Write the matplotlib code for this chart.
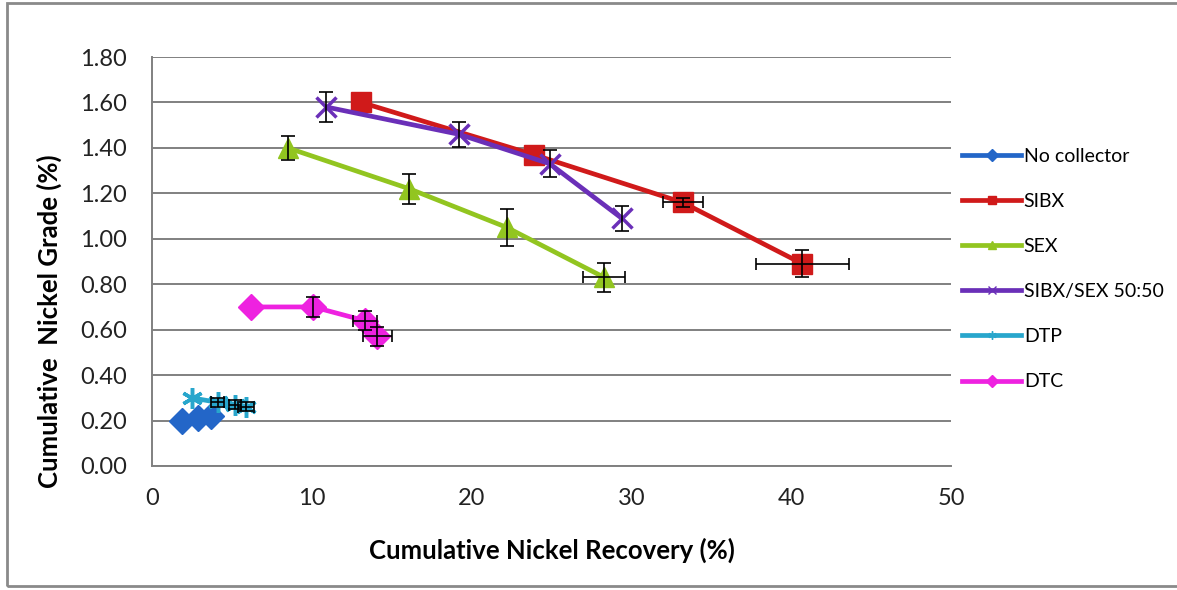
import matplotlib
matplotlib.use("Agg")
import matplotlib.pyplot as plt
from matplotlib.lines import Line2D
from matplotlib.patches import Rectangle

plt.rcParams['font.family'] = ['Lato', 'DejaVu Sans']

# ------------------------------------------------------------------ data
series_names = ['No collector', 'SIBX', 'SEX', 'SIBX/SEX 50:50', 'DTP', 'DTC']

# 0 = no visible error bar
nocol_rec = [1.9, 2.9, 3.7]
nocol_grade = [0.20, 0.21, 0.22]
nocol_xerr = [0, 0, 0]
nocol_yerr = [0, 0, 0]

sibx_rec = [13.1, 23.9, 33.2, 40.7]
sibx_grade = [1.60, 1.37, 1.16, 0.89]
sibx_xerr = [0, 0, 1.25, 2.9]
sibx_yerr = [0, 0, 0.02, 0.06]

sex_rec = [8.5, 16.1, 22.2, 28.3]
sex_grade = [1.40, 1.22, 1.05, 0.83]
sex_xerr = [0, 0, 0, 1.3]
sex_yerr = [0.053, 0.066, 0.08, 0.065]

mix_rec = [10.9, 19.2, 24.9, 29.4]
mix_grade = [1.58, 1.46, 1.33, 1.09]
mix_xerr = [0, 0, 0, 0]
mix_yerr = [0.066, 0.055, 0.059, 0.055]

dtp_rec = [2.5, 4.1, 5.2, 5.9]
dtp_grade = [0.30, 0.28, 0.27, 0.26]
dtp_xerr = [0, 0.4, 0.4, 0.5]
dtp_yerr = [0, 0.02, 0.02, 0.02]

dtc_rec = [6.2, 10.1, 13.3, 14.1]
dtc_grade = [0.70, 0.70, 0.64, 0.57]
dtc_xerr = [0, 0, 0.75, 0.9]
dtc_yerr = [0, 0.045, 0.04, 0.04]

colors = ['#2366C8', '#D01A1A', '#92C520', '#6A2FB8', '#28A6CC', '#EE22E0']
markers = ['D', 's', '^', 'x', (6, 2, 0), 'D']
msizes = [13, 15, 15, 15, 15, 13]
thin_marks = [False, False, False, True, True, False]

x_ticks = [0, 10, 20, 30, 40, 50]
y_ticks = [0.0, 0.2, 0.4, 0.6, 0.8, 1.0, 1.2, 1.4, 1.6, 1.8]

# ------------------------------------------------------------------ figure
fig = plt.figure(figsize=(11.77, 5.90), dpi=100)
ax = fig.add_axes([152 / 1177, 124 / 590, 799 / 1177, 409 / 590])

all_data = [
    (nocol_rec, nocol_grade, nocol_xerr, nocol_yerr),
    (sibx_rec, sibx_grade, sibx_xerr, sibx_yerr),
    (sex_rec, sex_grade, sex_xerr, sex_yerr),
    (mix_rec, mix_grade, mix_xerr, mix_yerr),
    (dtp_rec, dtp_grade, dtp_xerr, dtp_yerr),
    (dtc_rec, dtc_grade, dtc_xerr, dtc_yerr),
]

for i, (xs, ys, xe, ye) in enumerate(all_data):
    z = 3 + i * 2
    mew = 2.5 if thin_marks[i] else 1
    ax.plot(xs, ys, color=colors[i], lw=3.4, marker=markers[i],
            markersize=msizes[i], markeredgewidth=mew, zorder=z,
            solid_capstyle='round')
    # only draw the error bars that show in the picture
    ix = [k for k in range(len(xs)) if xe[k] > 0]
    iy = [k for k in range(len(xs)) if ye[k] > 0]
    if ix:
        ax.errorbar([xs[k] for k in ix], [ys[k] for k in ix], xerr=[xe[k] for k in ix],
                    fmt='none', ecolor='black', elinewidth=1.2, capsize=4.5,
                    capthick=1.2, zorder=z + 1)
    if iy:
        ax.errorbar([xs[k] for k in iy], [ys[k] for k in iy], yerr=[ye[k] for k in iy],
                    fmt='none', ecolor='black', elinewidth=1.2, capsize=5,
                    capthick=1.2, zorder=z + 1)

ax.set_xlim(0, 50)
ax.set_ylim(0, 1.8)
ax.set_xticks(x_ticks)
ax.set_yticks(y_ticks)
ax.set_yticklabels(['%.2f' % v for v in y_ticks])
ax.tick_params(length=0, labelsize=17, colors='#222222')
ax.tick_params(axis='y', pad=18)
ax.tick_params(axis='x', pad=16)

ax.grid(axis='y', color='#808080', lw=1.4)
ax.set_axisbelow(True)
for s in ['top', 'right']:
    ax.spines[s].set_visible(False)
for s in ['left', 'bottom']:
    ax.spines[s].set_color('#808080')
    ax.spines[s].set_linewidth(1.4)

ax.set_xlabel('Cumulative Nickel Recovery (%)', fontsize=18.5, fontweight='bold')
ax.set_ylabel('Cumulative  Nickel Grade (%)', fontsize=18.5, fontweight='bold')
ax.xaxis.set_label_coords(0.5, -0.174)
ax.yaxis.set_label_coords(-0.113, 0.355)

# legend with small markers on the lines
handles = []
for i in range(len(series_names)):
    handles.append(Line2D([0], [0], color=colors[i], lw=3.4, marker=markers[i],
                          markersize=6, markeredgewidth=1))
fig.legend(handles, series_names, loc='upper left', bbox_to_anchor=(945 / 1177, 1 - 130 / 590),
           frameon=False, fontsize=14, handlelength=3.0, handletextpad=0.15,
           labelspacing=1.45)

# outer chart border
fig.patches.append(Rectangle((7 / 1177, 4 / 590), 1.2, 583 / 590, transform=fig.transFigure,
                             fill=False, edgecolor='#8a8a8a', lw=2))

fig.savefig('out.png', dpi=100)
